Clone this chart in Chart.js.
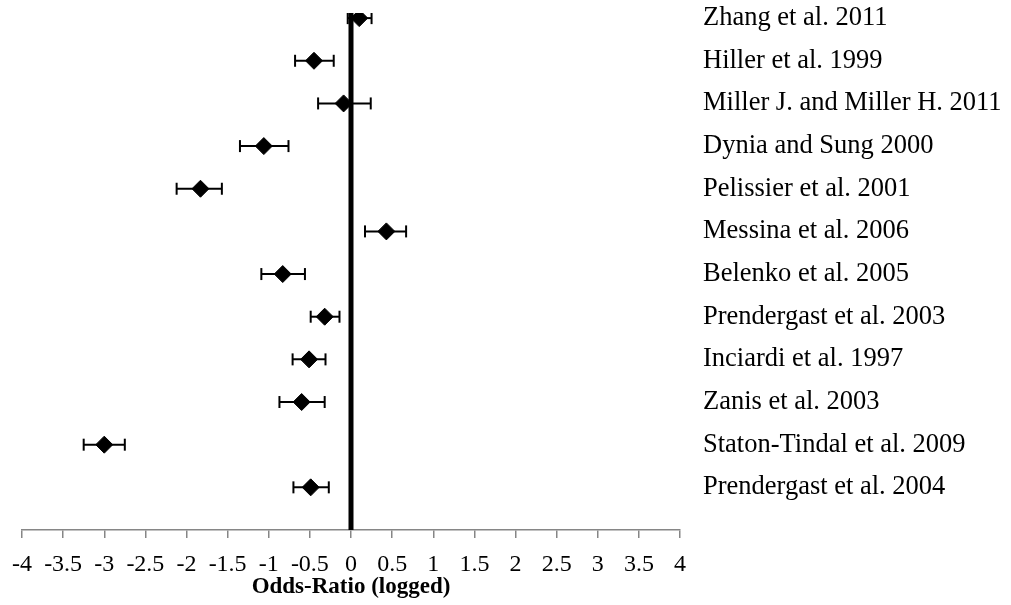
<!DOCTYPE html>
<html>
<head>
    <title>Odds-Ratio Forest Plot</title>
    <script src="https://cdn.jsdelivr.net/npm/chart.js"></script>
    <style>
        body { margin: 0; background: #fff; }
        #wrap { width: 1011px; height: 605px; }
    </style>
</head>
<body>
    <div id="wrap"><canvas id="forestChart" width="1011" height="605"></canvas></div>
    <script>
        // studies listed top to bottom
        const studies = ['Zhang et al. 2011', 'Hiller et al. 1999', 'Miller J. and Miller H. 2011',
            'Dynia and Sung 2000', 'Pelissier et al. 2001', 'Messina et al. 2006', 'Belenko et al. 2005',
            'Prendergast et al. 2003', 'Inciardi et al. 1997', 'Zanis et al. 2003',
            'Staton-Tindal et al. 2009', 'Prendergast et al. 2004'];
        const logOdds = [0.10, -0.45, -0.09, -1.06, -1.83, 0.43, -0.83, -0.32, -0.51, -0.60, -3.00, -0.49];
        const lower = [-0.04, -0.68, -0.40, -1.35, -2.12, 0.17, -1.09, -0.49, -0.71, -0.87, -3.25, -0.70];
        const upper = [0.25, -0.21, 0.24, -0.76, -1.57, 0.67, -0.56, -0.14, -0.31, -0.32, -2.75, -0.27];
        const xTicks = [-4, -3.5, -3, -2.5, -2, -1.5, -1, -0.5, 0, 0.5, 1, 1.5, 2, 2.5, 3, 3.5, 4];

        const rowY = studies.map((s, i) => studies.length - i);
        const yMax = 12.12;

        const font = 'Liberation Serif, Times New Roman, serif';

        const errorSets = studies.map((s, i) => ({
            type: 'line',
            data: [{ x: lower[i], y: rowY[i] }, { x: upper[i], y: rowY[i] }],
            borderColor: '#000',
            borderWidth: 2,
            pointStyle: 'line',
            rotation: 90,
            pointRadius: 6,
            pointBorderWidth: 2,
            pointBorderColor: '#000',
            order: 1,
        }));

        new Chart(document.getElementById('forestChart'), {
            type: 'scatter',
            data: {
                datasets: [
                    {
                        label: 'Odds-Ratio',
                        data: logOdds.map((v, i) => ({ x: v, y: rowY[i] })),
                        pointStyle: 'rectRot',
                        pointRadius: 8.5,
                        backgroundColor: '#000',
                        borderColor: '#000',
                        borderWidth: 1,
                        order: 0,
                    },
                    ...errorSets,
                    {
                        type: 'line',
                        data: [{ x: 0, y: 0 }, { x: 0, y: yMax }],
                        borderColor: '#000',
                        borderWidth: 5,
                        pointRadius: 0,
                        order: 2,
                    },
                ],
            },
            options: {
                responsive: false,
                animation: false,
                layout: { padding: { left: 22, top: 13, bottom: 6, right: 0 } },
                plugins: { legend: { display: false }, tooltip: { enabled: false } },
                scales: {
                    x: {
                        type: 'linear',
                        min: -4,
                        max: 4,
                        afterBuildTicks: (scale) => { scale.ticks = xTicks.map(v => ({ value: v })); },
                        afterFit: (scale) => {
                            scale.paddingLeft = 0;
                            scale.paddingRight = 0;
                        },
                        grid: { drawOnChartArea: false, drawTicks: true, tickLength: 8, color: '#868686', lineWidth: 1.5 },
                        border: { color: '#868686', width: 1.5 },
                        ticks: {
                            autoSkip: false,
                            maxRotation: 0,
                            color: '#000',
                            padding: 14.5,
                            font: { family: font, size: 24, lineHeight: 1 },
                            callback: (v) => String(v),
                        },
                        title: {
                            display: true,
                            text: 'Odds-Ratio (logged)',
                            color: '#000',
                            padding: { top: -15, bottom: 0 },
                            font: { family: font, size: 23, weight: 'bold', lineHeight: 1 },
                        },
                    },
                    y: {
                        type: 'linear',
                        min: 0,
                        max: yMax,
                        display: false,
                    },
                    y2: {
                        type: 'linear',
                        position: 'right',
                        min: 0,
                        max: yMax,
                        afterBuildTicks: (scale) => { scale.ticks = rowY.map(v => ({ value: v })); },
                        afterFit: (scale) => {
                            scale.width = 331;
                            scale.paddingTop = 0;
                            scale.paddingBottom = 0;
                        },
                        grid: { display: false },
                        border: { display: false },
                        ticks: {
                            color: '#000',
                            padding: 15,
                            font: { family: font, size: 26.5 },
                            callback: (v) => studies[studies.length - v],
                        },
                    },
                },
            },
        });
    </script>
</body>
</html>
